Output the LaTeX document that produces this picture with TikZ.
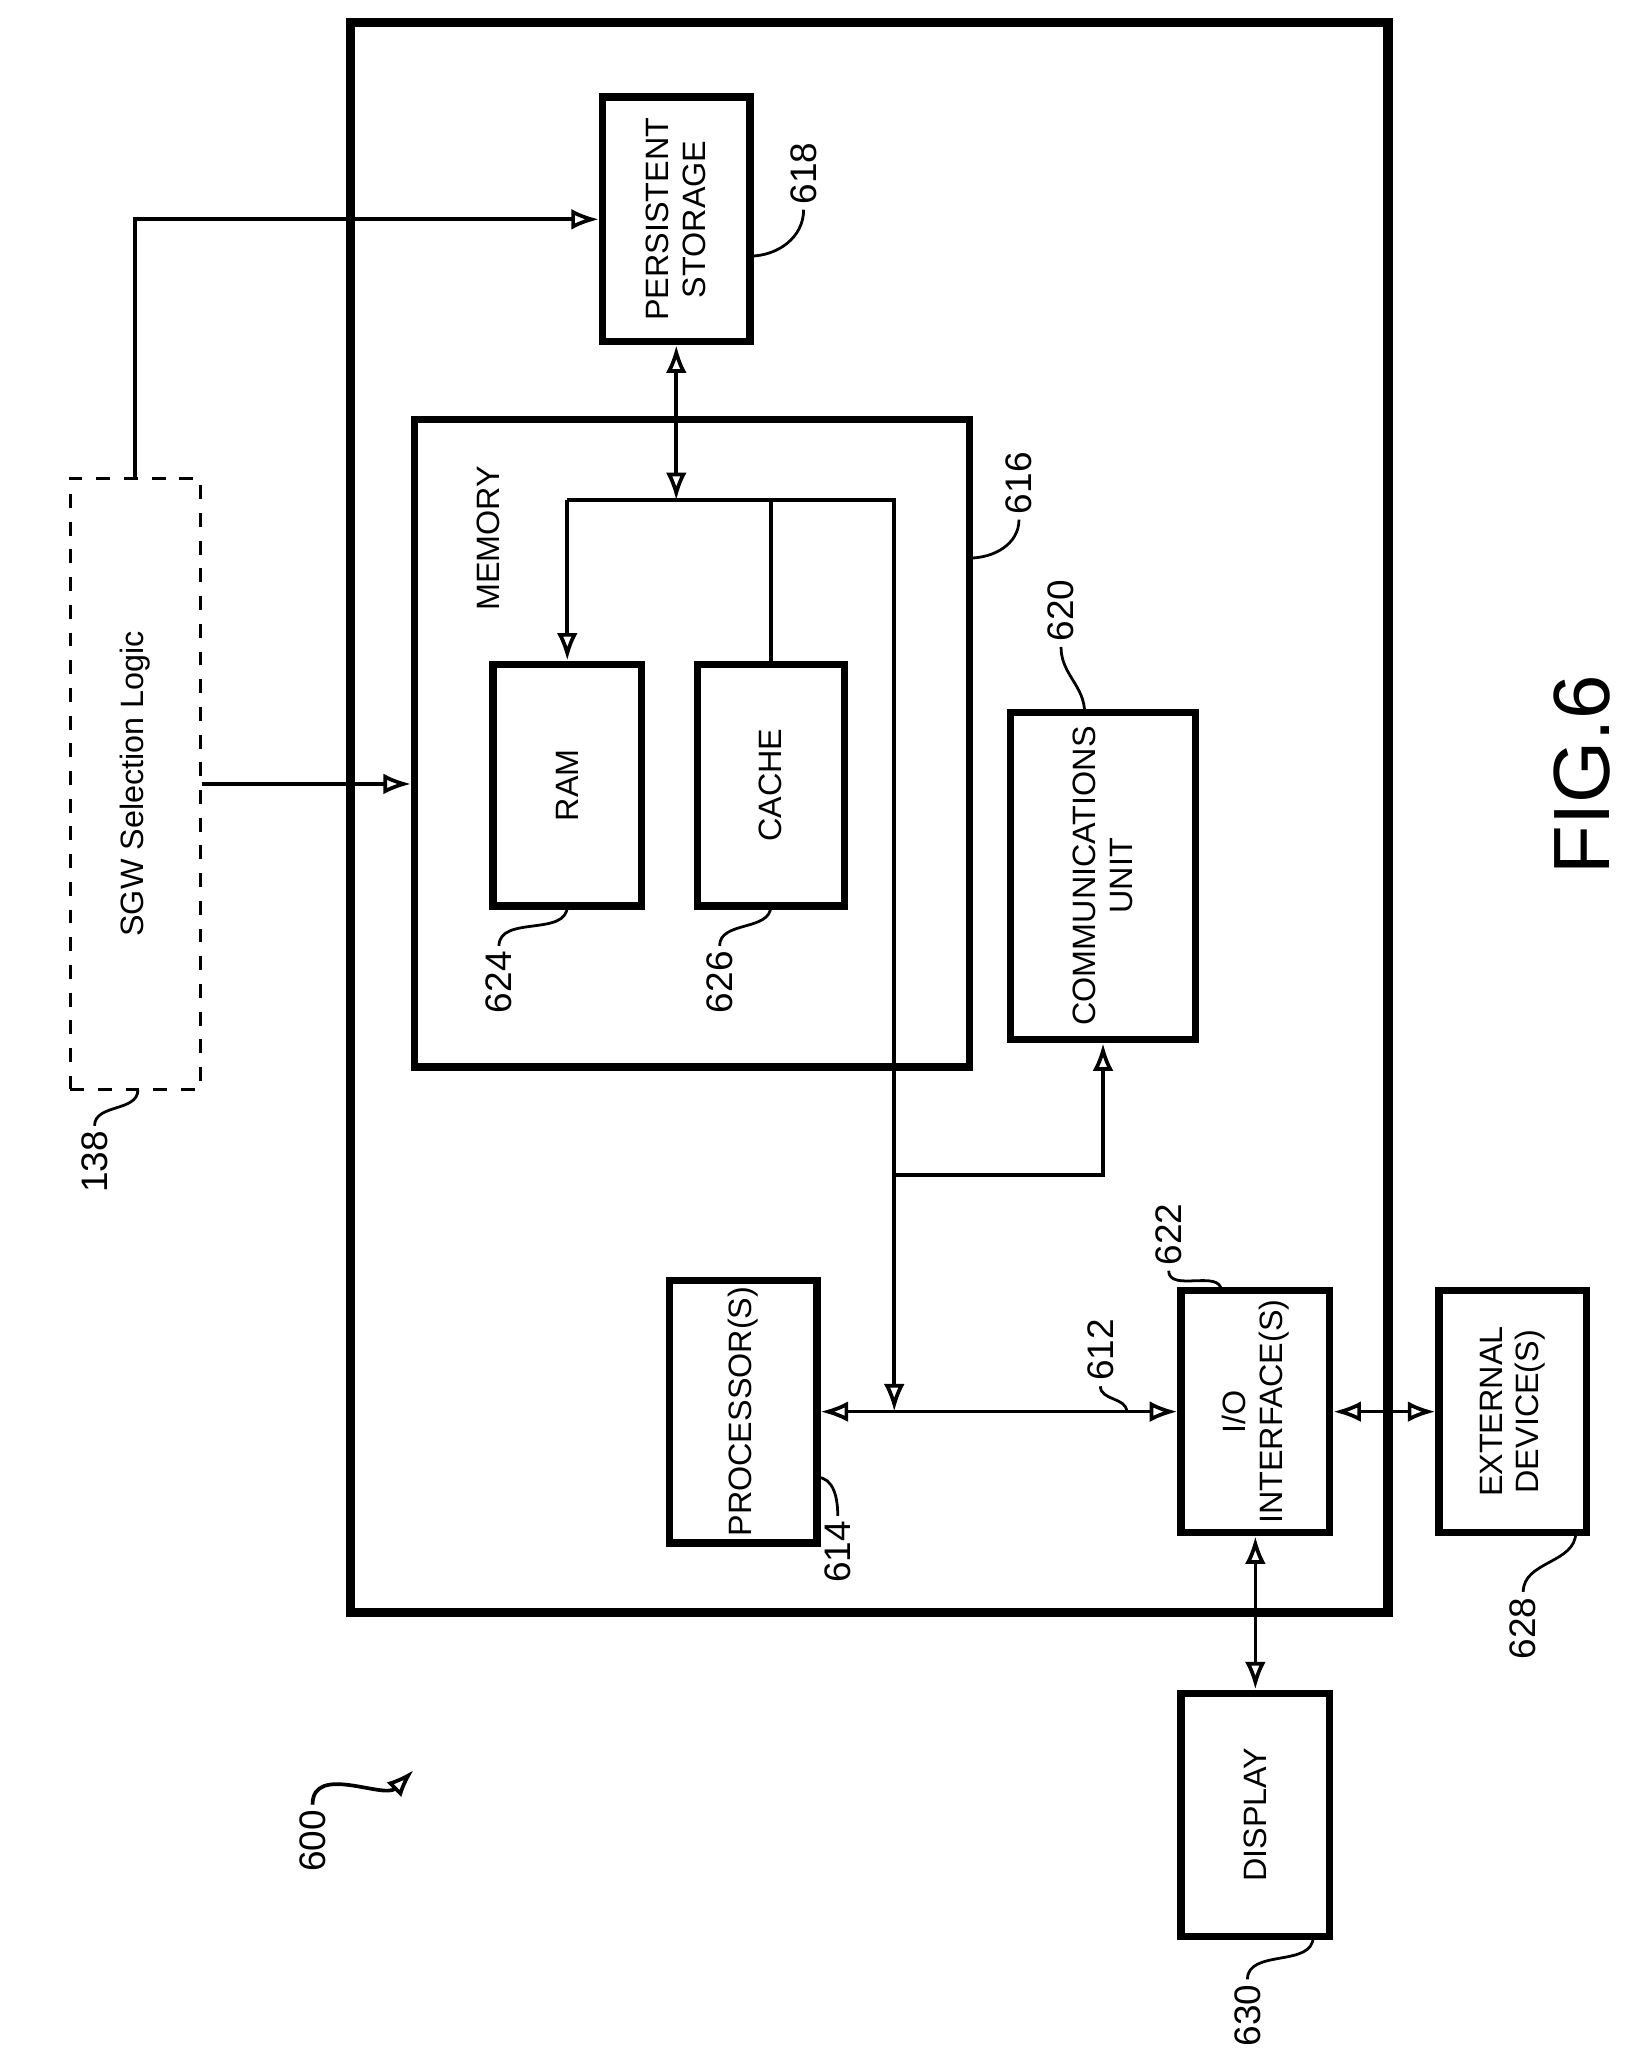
\documentclass[tikz,border=0pt]{standalone}
\usepackage{fontspec}
\setmainfont{Liberation Sans}
\usetikzlibrary{arrows.meta}
\tikzset{
  box/.style={draw, line width=1.6pt, inner sep=0pt},
  txt/.style={rotate=90, align=center, font=\scriptsize},
  num/.style={rotate=90, font=\footnotesize, inner sep=1pt},
  link/.style={line width=0.8pt, {Latex[open,length=6pt]}-{Latex[open,length=6pt]}},
  to/.style={line width=0.8pt, -{Latex[open,length=6pt]}},
  lead/.style={line width=0.6pt}
}
\begin{document}
\begin{tikzpicture}[x=0.01cm,y=-0.01cm]
\useasboundingbox (0,0) rectangle (1240,1568);

\draw[line width=2pt] (267,17) rectangle (1057,1228);	% device 600

\node[box, minimum width=1.12cm, minimum height=1.86cm, label={[txt]center:PERSISTENT\\STORAGE}] (storage) at (515,167) {};
\node[box, minimum width=4.22cm, minimum height=4.93cm] (memory) at (527,566) {};
\node[txt] (memlbl) at (372,410) {MEMORY};
\node[box, minimum width=1.13cm, minimum height=1.84cm, label={[txt]center:RAM}] (ram) at (432,598) {};
\node[box, minimum width=1.12cm, minimum height=1.84cm, label={[txt]center:CACHE}] (cache) at (587,598) {};
\node[box, minimum width=1.41cm, minimum height=2.49cm, label={[txt]center:COMMUNICATIONS\\UNIT}] (comm) at (840,667) {};
\node[box, minimum width=1.12cm, minimum height=2.0cm, label={[txt]center:PROCESSOR(S)}] (proc) at (566,1075) {};
\node[box, minimum width=1.13cm, minimum height=1.84cm, label={[txt]center:I/O\\INTERFACE(S)}] (io) at (956,1075) {};
\node[box, minimum width=1.12cm, minimum height=1.84cm, label={[txt]center:EXTERNAL\\DEVICE(S)}] (ext) at (1152,1075) {};
\node[box, minimum width=1.13cm, minimum height=1.85cm, label={[txt]center:DISPLAY}] (disp) at (956,1382) {};
\node[draw, dashed, line width=0.6pt, minimum width=0.99cm, minimum height=4.65cm, label={[txt]center:SGW Selection Logic}] (sgw) at (103,597) {};

% memory bus
\coordinate (mtop) at (681,381);
\coordinate (mleft) at (432,381);
\coordinate (mbus) at (681,1075);
\coordinate (mcomm) at (681,895);
\draw[line width=0.8pt] (mleft) -- (mtop) -- (mcomm);
\draw[to] (mleft) -- (ram.north);
\draw[line width=0.8pt] (cache.north) -- (cache.north |- mtop);
\draw[link] (storage.south) -- (storage.south |- mtop);
\draw[to] (mcomm) -- (mbus);
\draw[to] (mcomm) -| (comm.south);

% system bus
\draw[link] (proc.east) -- (io.west);
\draw[link] (io.east) -- (ext.west);
\draw[link] (io.south) -- (disp.north);

% selection logic
\draw[to] (sgw.north) |- (storage.west);
\draw[to] (sgw.east) -- (sgw.east -| memory.west);

% reference numerals
\node[num] (n618) at (612,132) {618};
\draw[lead] (n618.west) to[out=-90,in=0] (571,195);
\node[num] (n616) at (776,368) {616};
\draw[lead] (n616.west) to[out=-90,in=0] (738,425);
\node[num] (n624) at (380,748) {624};
\draw[lead] (n624.east) to[out=90,in=-90] (432,690);
\node[num] (n626) at (548,748) {626};
\draw[lead] (n626.east) to[out=90,in=-90] (587,690);
\node[num] (n620) at (808,465) {620};
\draw[lead] (n620.west) to[out=-90,in=90] (826,543);
\node[num] (n614) at (638,1182) {614};
\draw[lead] (n614.east) to[out=90,in=0] (622,1125);
\node[num] (n612) at (838,1028) {612};
\draw[lead] (n612.west) to[out=-90,in=90] (858,1075);
\node[num] (n622) at (890,940) {622};
\draw[lead] (n622.west) to[out=-90,in=90] (930,983);
\node[num] (n628) at (1160,1240) {628};
\draw[lead] (n628.east) to[out=90,in=-90] (1200,1167);
\node[num] (n630) at (950,1535) {630};
\draw[lead] (n630.east) to[out=90,in=-90] (1000,1475);
\node[num] (n138) at (72,885) {138};
\draw[lead] (n138.east) to[out=90,in=-90] (105,830);
\node[num] (n600) at (238,1402) {600};
\coordinate (p600) at (315,1348);
\draw[to] (n600.east) to[out=90,in=-135] (p600);

\node[rotate=90, font=\LARGE] (fig) at (1205,590) {FIG.6};
\end{tikzpicture}
\end{document}
